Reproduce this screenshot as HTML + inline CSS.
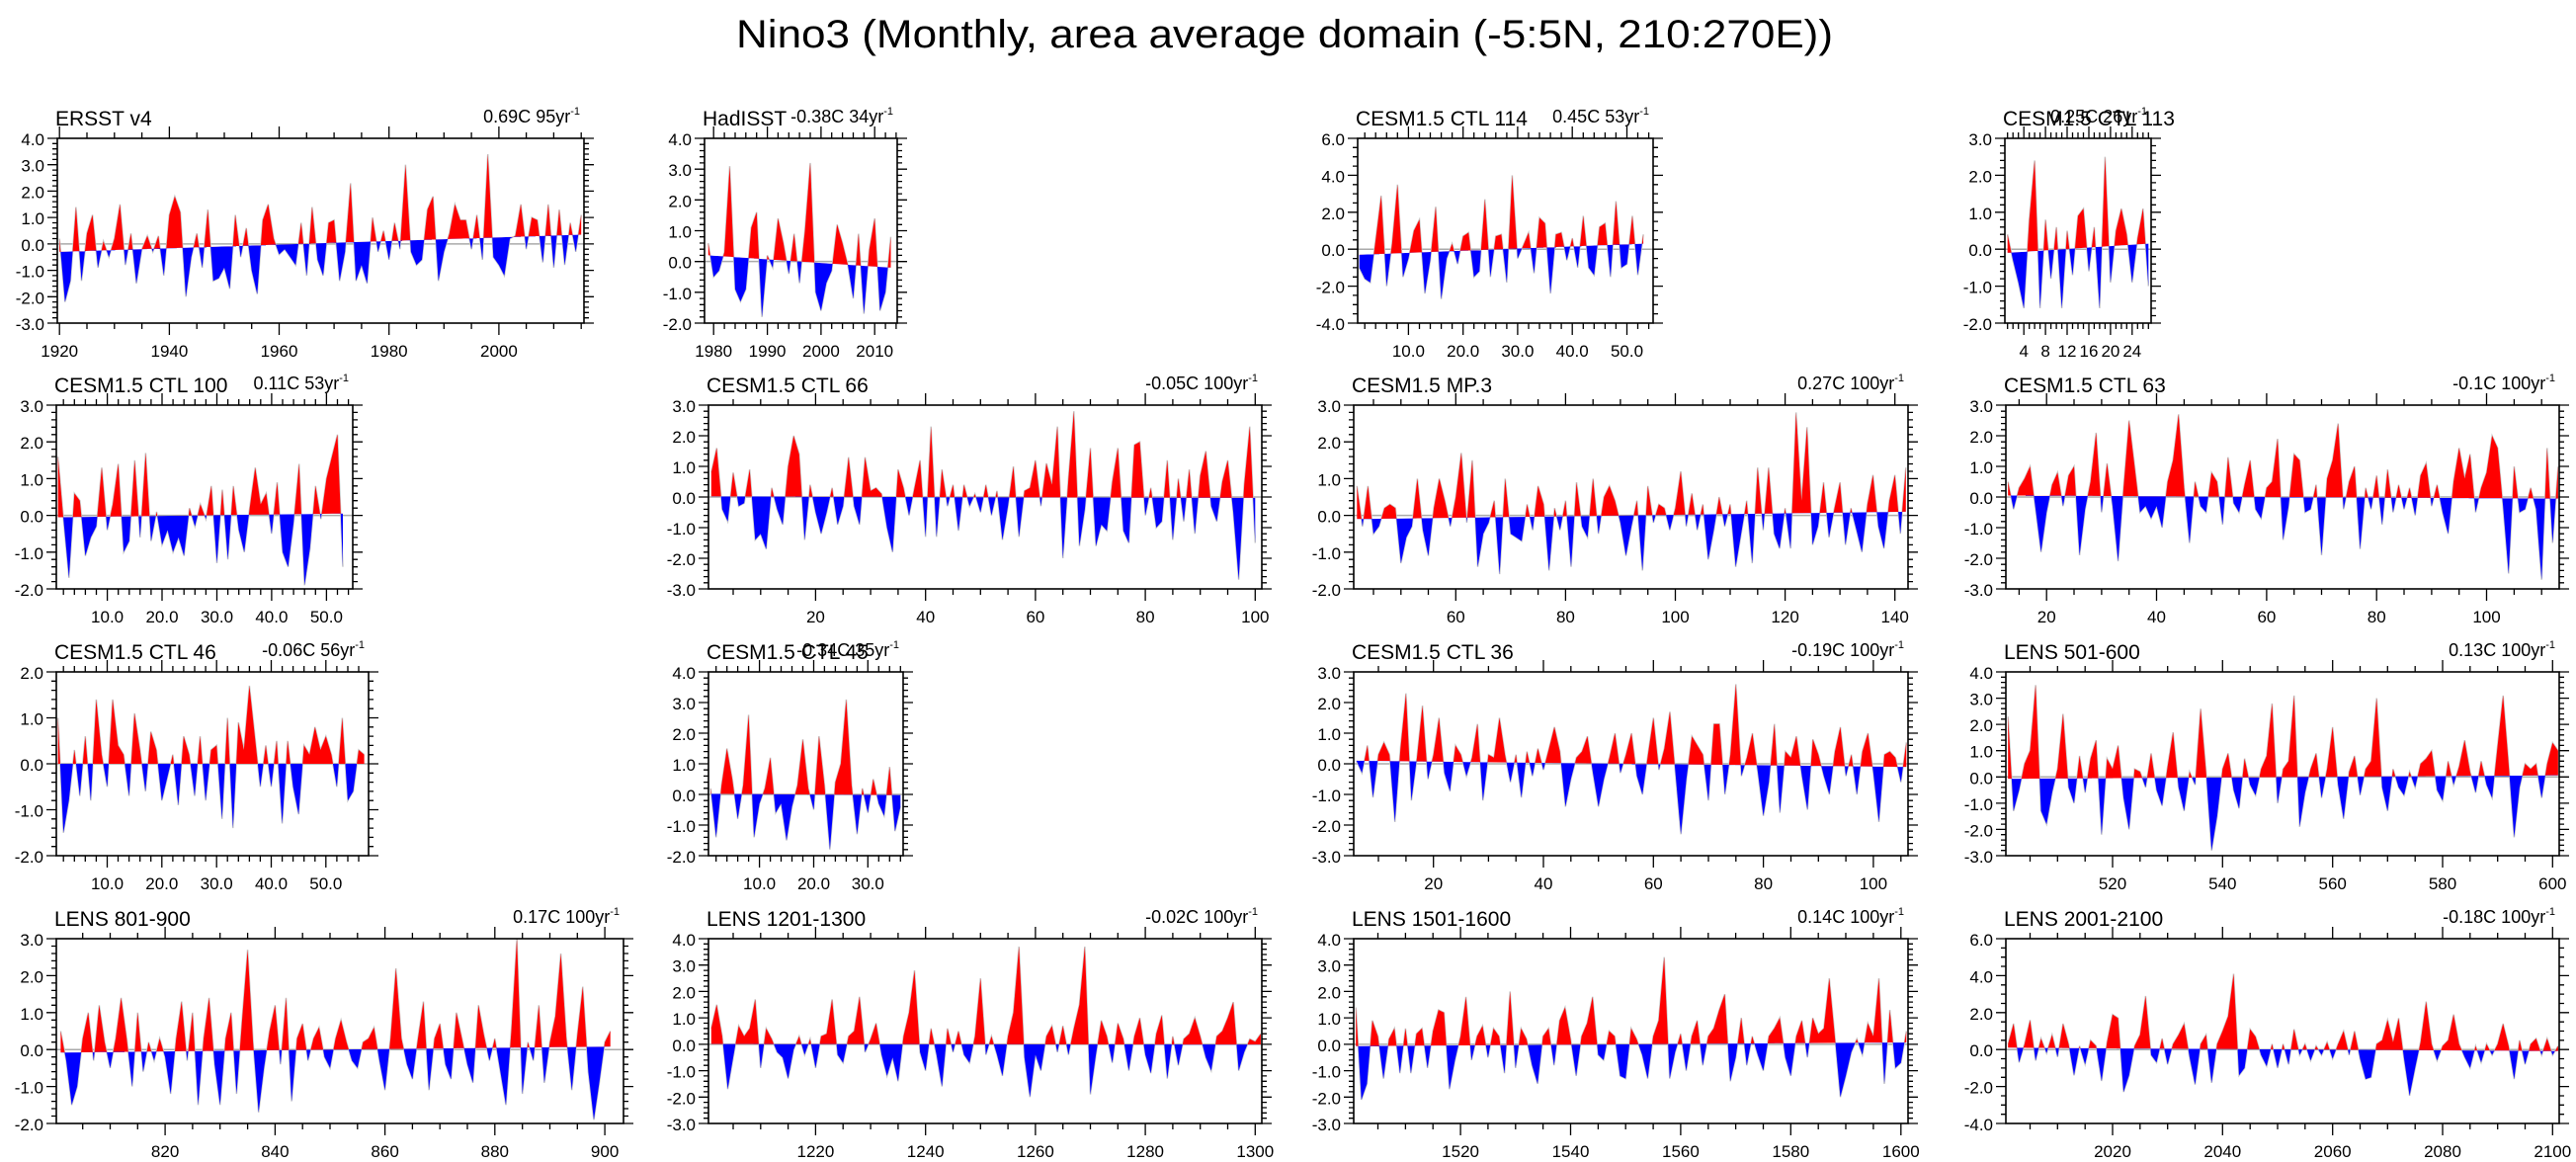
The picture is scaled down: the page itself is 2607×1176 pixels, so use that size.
<!DOCTYPE html>
<html><head><meta charset="utf-8"><title>Nino3</title>
<style>html,body{margin:0;padding:0;background:#fff}svg{display:block}text{font-family:"Liberation Sans",sans-serif}</style>
</head><body>
<svg id="chart" xmlns="http://www.w3.org/2000/svg" width="2607" height="1176" viewBox="0 0 2607 1176">
<rect width="2607" height="1176" fill="#fff"/>
<text x="1300" y="48" font-size="40" text-anchor="middle" textLength="1110" lengthAdjust="spacingAndGlyphs">Nino3 (Monthly, area average domain (-5:5N, 210:270E))</text>
</svg>
<script>
const ersstValues=[0.2,-2.2,-1.4,1.4,-1.4,0.4,1.1,-0.9,0.1,-0.5,0.2,1.5,-0.8,0.4,-1.5,-0.2,0.3,-0.3,0.3,-1.2,1.1,1.8,1.2,-2.0,-0.5,0.4,-0.9,1.3,-1.4,-1.3,-0.9,-1.7,1.1,-0.5,0.6,-1.0,-1.9,0.9,1.5,0.2,-0.4,-0.2,-0.5,-0.8,0.8,-1.2,1.4,-0.6,-1.2,0.8,0.9,-1.4,-0.3,2.3,-1.4,-0.8,-1.5,1.0,-0.3,0.5,-0.6,0.8,-0.2,3.0,-0.3,-0.8,-0.6,1.3,1.8,-1.4,-0.3,0.4,1.5,0.9,0.9,-0.2,1.1,-0.6,3.4,-0.5,-0.8,-1.2,0.2,0.3,1.5,-0.2,1.0,0.9,-0.7,1.5,-0.9,1.3,-0.8,0.8,-0.3,1.1];
const ersstTrend=[-0.3,0.35];
const hadValues=[0.6,-0.5,-0.3,0.3,3.1,-0.9,-1.3,-0.9,1.1,1.6,-1.8,0.2,-0.2,1.4,0.6,-0.4,0.9,-0.7,1.0,3.2,-1.0,-1.6,-0.7,-0.3,1.2,0.6,-0.1,-1.2,0.9,-1.7,0.4,1.4,-1.6,-1.0,0.8];
const hadTrend=[0.2,-0.2];
const ctl114Values=[-1.0,-1.6,-1.8,0.5,2.9,-2.0,0.3,3.5,-1.5,-0.5,1.0,1.6,-2.4,-0.6,2.3,-2.7,-0.5,0.3,-0.8,0.7,0.9,-1.5,-1.2,2.7,-1.5,0.7,0.8,-1.8,4.0,-0.5,0.2,0.9,-1.3,1.7,1.4,-2.4,0.8,0.9,-0.6,0.6,-1.0,1.8,-1.0,-1.4,1.2,1.4,-1.5,2.6,-1.0,-0.8,1.8,-1.4,0.8];
const ctl114Trend=[-0.3,0.3];
const ctl113Values=[0.4,-0.3,-0.9,-1.6,0.8,2.4,-1.6,0.8,-0.8,0.6,-1.6,0.5,-0.7,0.9,1.1,-0.6,0.6,-1.6,2.5,-0.9,0.5,1.1,0.4,-0.9,0.3,1.1,-1.0];
const ctl113Trend=[-0.1,0.15];
const ctl100Values=[1.6,-0.1,-1.7,0.6,0.4,-1.1,-0.6,-0.3,1.3,-0.4,0.3,1.4,-1.0,-0.7,1.5,-0.6,1.7,-0.7,0.1,-0.8,-0.4,-1.0,-0.6,-1.1,0.2,-0.3,0.3,-0.1,0.8,-1.3,0.7,-1.2,0.8,-0.4,-1.0,0.2,1.3,0.3,0.6,-0.5,0.9,-1.0,-1.4,-0.2,1.4,-1.9,-0.9,0.8,-0.1,1.0,1.6,2.2,-1.4];
const ctl100Trend=[-0.05,0.05];
const ctl66Values=[0.8,1.6,-0.4,-0.8,0.8,-0.3,-0.2,0.9,-1.4,-1.2,-1.7,0.3,-0.4,-0.9,1.0,2.0,1.4,-1.4,0.4,-0.5,-1.2,-0.5,0.3,-0.9,-0.3,1.3,-0.3,-0.9,1.3,0.2,0.3,0.1,-1.0,-1.8,0.9,0.3,-0.6,0.3,1.2,-1.3,2.3,-1.3,0.9,-0.3,0.4,-1.1,0.4,-0.3,0.1,-0.5,0.4,-0.6,0.2,-1.4,-0.3,1.0,-1.3,0.2,0.3,1.2,-0.3,1.1,0.4,2.3,-2.0,0.6,2.8,-1.6,-0.4,1.6,-1.6,-0.9,-1.1,0.5,1.6,-1.1,-1.5,1.7,1.8,-0.6,0.3,-1.0,-0.8,1.2,-1.4,0.6,-0.8,0.9,-1.2,0.7,1.5,-0.3,-0.8,0.5,1.2,-0.5,-2.7,0.4,2.3,-1.5];
const ctl66Trend=[0.02,-0.03];
const mp3Values=[0.8,-0.3,0.8,-0.5,-0.3,0.2,0.3,0.2,-1.3,-0.6,-0.3,1.0,-0.4,-1.1,0.2,1.0,0.4,-0.3,0.5,1.7,-0.2,1.5,-1.4,-0.5,-0.2,0.4,-1.6,1.0,-0.5,-0.6,-0.7,0.3,-0.4,0.8,0.3,-1.5,0.2,-0.4,0.4,-1.4,0.9,-0.3,-0.6,1.0,-0.5,0.5,0.8,0.4,-0.2,-1.1,-0.3,0.4,-1.5,0.8,-0.2,0.3,0.2,-0.4,0.2,1.2,-0.3,0.6,-0.4,0.3,-1.2,-0.4,0.5,-0.3,0.3,-1.4,-0.5,0.4,-1.3,1.3,-0.4,1.3,-0.5,-0.9,0.2,-0.9,2.8,0.4,2.4,-0.8,-0.3,0.9,-0.6,0.2,0.9,-0.8,0.2,-0.4,-1.0,0.3,1.1,-0.3,-0.9,0.4,1.1,-0.5,1.3];
const mp3Trend=[-0.1,0.1];
const ctl63Values=[0.5,-0.4,0.3,0.6,1.0,-0.4,-1.8,-0.5,0.4,0.8,-0.3,0.7,1.0,-1.9,-0.4,0.5,2.1,-0.5,1.1,-0.3,-2.1,0.3,2.5,1.0,-0.5,-0.3,-0.7,-0.3,-1.0,0.5,1.2,2.7,0.3,-1.5,0.5,-0.3,-0.5,0.8,0.5,-0.9,1.3,-0.2,-0.5,0.4,1.2,-0.4,-0.7,0.3,0.5,1.9,-1.4,-0.3,1.4,1.2,-0.5,-0.4,0.4,-1.9,0.6,1.2,2.4,-0.4,0.5,1.0,-1.7,0.3,-0.4,0.7,-0.9,0.9,-0.5,0.4,-0.4,0.3,-0.6,0.7,1.1,-0.3,0.4,-0.5,-1.2,0.5,1.6,0.6,1.4,-0.5,0.3,0.8,2.0,1.6,-0.3,-2.5,1.0,-0.5,-0.4,0.3,-0.4,-2.7,1.6,-1.5,1.0];
const ctl63Trend=[0.05,-0.05];
const ctl46Values=[1.0,-1.5,-0.8,0.3,-0.7,0.6,-0.8,1.4,0.2,-0.5,1.4,0.4,0.2,-0.7,1.1,0.3,-0.6,0.7,0.3,-0.8,-0.3,0.2,-0.9,0.6,0.2,-0.7,0.6,-0.8,0.3,0.4,-1.2,1.0,-1.4,0.9,0.3,1.7,0.6,-0.5,0.4,-0.5,0.5,-1.3,0.5,-0.5,-1.1,0.4,0.2,0.8,0.3,0.6,0.2,-0.5,1.0,-0.8,-0.6,0.3,0.2];
const ctl46Trend=[0,0];
const ctl45Values=[0.2,-1.4,0.3,1.5,0.5,-0.8,0.3,2.6,-1.4,-0.3,0.2,1.2,-0.6,-0.3,-1.5,-0.4,0.3,1.8,0.2,-0.5,1.9,0.3,-1.8,0.4,1.0,3.1,0.3,-1.3,0.2,-0.6,0.5,-0.3,-0.7,0.9,-1.2,-0.4];
const ctl45Trend=[0.02,-0.02];
const ctl36Values=[0.1,-0.3,0.6,-1.1,0.3,0.7,0.3,-1.9,0.5,2.3,-1.2,0.2,1.9,-0.5,0.3,1.5,-0.3,-0.9,0.6,0.3,-0.4,0.2,1.3,-1.2,0.3,0.2,1.5,0.3,-0.6,0.3,-1.1,0.4,-0.4,0.5,-0.2,0.5,1.2,0.4,-1.4,-0.5,0.2,0.4,0.9,-0.3,-1.4,-0.5,0.2,1.0,-0.3,0.3,1.0,-0.4,-1.0,0.3,1.5,-0.2,0.5,1.7,-0.3,-2.3,-0.5,0.9,0.6,0.3,-1.2,1.3,1.3,-1.0,0.3,2.6,-0.4,0.2,1.0,-0.3,-1.7,-0.6,1.3,-1.6,0.4,0.2,0.9,-0.4,-1.5,0.8,0.3,-0.4,-1.0,0.4,1.2,-0.4,0.3,-1.0,0.4,1.0,-0.3,-1.9,0.3,0.4,0.2,-0.6,0.7];
const ctl36Trend=[0.1,-0.1];
const lens500Values=[2.3,-1.3,-0.5,0.5,1.0,3.5,-1.3,-1.8,-0.6,0.3,2.4,-0.4,-1.0,0.8,-0.6,0.7,1.4,-2.2,0.7,0.3,1.2,-0.8,-2.0,0.3,0.2,-0.4,0.9,-0.5,-1.1,0.4,1.7,-0.4,-1.3,0.2,-0.3,2.6,0.2,-2.8,-1.5,0.3,0.9,-0.5,-1.2,0.7,-0.3,-0.7,0.3,0.8,2.8,-1.0,0.3,0.6,3.1,-1.9,-0.6,0.3,0.9,-0.8,0.3,1.9,-0.3,-1.6,0.2,0.8,-0.7,0.3,0.6,3.0,-0.4,-1.3,0.3,-0.4,-0.7,0.2,-0.4,0.5,0.7,1.0,-0.5,-0.9,0.6,-0.3,0.4,1.4,0.2,-0.6,0.6,-0.3,-0.8,1.2,3.1,0.5,-2.3,-0.4,0.5,0.3,0.5,-0.8,0.5,1.3,1.0];
const lens500Trend=[-0.07,0.06];
const lens800Values=[0.5,-0.3,-1.5,-1.0,0.3,1.0,-0.3,1.2,0.2,-0.5,0.3,1.4,0.3,-1.0,1.0,-0.6,0.2,-0.3,0.3,-0.2,-1.2,0.3,1.3,-0.3,1.0,-1.5,0.3,1.4,-0.4,-1.5,0.3,1.0,-1.2,0.8,2.7,0.2,-1.7,-0.5,0.5,1.2,-0.4,1.4,-1.4,0.3,0.7,-0.3,0.3,0.6,-0.2,-0.5,0.3,0.8,0.2,-0.3,-0.5,0.2,0.3,0.6,-0.3,-1.1,0.3,2.2,0.3,-0.4,-0.8,0.3,1.3,-1.1,0.3,0.7,-0.4,-0.8,1.0,0.3,-0.4,-0.9,1.2,0.4,-0.3,0.3,-0.6,-1.5,0.5,3.0,-1.2,0.2,-0.3,1.2,-0.9,0.2,0.9,2.6,0.3,-1.1,0.4,1.7,-0.6,-1.9,-0.9,0.2,0.5];
const lens800Trend=[-0.08,0.08];
const lens1200Values=[0.6,1.5,0.3,-1.7,-0.5,0.7,0.3,0.6,1.7,-0.9,0.6,0.2,-0.3,-0.5,-1.3,-0.2,0.3,-0.4,0.2,-0.9,0.3,0.4,1.7,-0.4,-0.7,0.3,0.5,1.8,-0.3,0.2,0.8,-0.4,-1.2,-0.5,-1.4,0.3,1.2,2.8,-0.3,-1.0,0.6,-0.4,-1.6,0.6,-0.3,0.5,-0.4,-0.7,0.3,2.5,-0.4,0.3,-0.4,-1.2,0.3,1.2,3.7,-0.5,-2.0,-0.4,-1.0,0.3,0.7,-0.3,0.7,-0.4,0.6,1.5,3.7,-1.9,-0.4,0.9,0.3,-0.7,0.8,0.2,-1.0,0.3,1.0,-0.4,-1.1,0.4,1.1,-1.3,0.3,-0.8,0.2,0.4,1.0,0.3,-0.5,-1.0,0.3,0.5,1.0,1.6,-1.0,-0.3,0.2,0.1,0.4];
const lens1200Trend=[0.01,-0.01];
const lens1500Values=[1.4,-2.1,-1.5,0.9,0.3,-1.3,0.2,0.6,-1.1,0.6,-1.1,0.4,0.6,-0.9,0.5,1.3,1.2,-1.7,-0.6,0.3,1.8,-0.6,0.3,0.7,-0.5,0.6,0.3,-1.1,2.0,-0.9,0.6,0.2,-0.8,-1.5,0.3,0.6,-0.8,0.9,1.4,0.2,-1.2,0.3,0.8,1.8,-0.4,-0.6,0.5,0.3,-1.2,-1.3,0.6,0.2,-0.4,-1.3,0.3,0.9,3.3,-1.3,-0.3,0.4,-1.0,0.3,0.9,-0.8,0.3,0.6,1.3,1.9,-1.4,-0.5,1.0,-0.8,0.3,-0.4,-1.0,0.3,0.6,1.0,-0.5,-1.2,0.3,0.9,-0.5,1.0,0.4,0.6,2.5,0.3,-2.0,-1.2,-0.3,0.2,-0.4,0.8,0.3,2.5,-1.5,1.3,-0.9,-0.7,0.5];
const lens1500Trend=[-0.07,0.07];
const lens2000Values=[0.3,1.4,-0.7,0.3,1.6,-0.6,0.6,-0.2,0.8,-0.4,1.4,0.3,-1.4,0.2,-0.8,0.5,0.2,-1.7,0.4,1.9,1.7,-2.3,-1.4,0.2,0.8,2.9,-0.3,-0.7,0.6,-0.8,0.3,0.8,1.4,-0.4,-1.9,0.3,0.8,-1.8,0.3,1.0,1.8,4.1,-1.4,-1.0,1.1,0.7,-0.3,-0.9,0.3,-1.0,0.3,-0.8,1.1,-0.3,0.3,-0.6,0.2,-0.3,0.4,-0.5,0.3,1.0,-0.3,1.0,-0.5,-1.6,-1.5,0.3,0.5,1.6,0.4,1.7,-0.5,-2.5,-1.0,0.4,2.6,0.3,-0.6,0.2,0.5,1.9,0.3,-0.4,-1.0,0.2,-0.7,0.3,-0.3,0.3,1.4,0.2,-1.6,0.5,-0.8,0.3,0.6,-0.3,0.6,-0.3,0.2];
const lens2000Trend=[0.1,-0.08];

const rows=[[140,327],[410,596],[680,866],[950,1137]];
const panels=[
 {id:'ersst',title:'ERSST v4',tt:'0.69C 95yr',L:58,R:591,row:0,xlo:1919.6,xhi:2015.5,ylo:-3,yhi:4,ym:1,yn:0.2,xt:[1920,2000,20],xn:5,xd:0,start:1920,vals:ersstValues,tr:ersstTrend},
 {id:'hadisst',title:'HadISST',tt:'-0.38C 34yr',L:713,R:908,row:0,xlo:1978.3,xhi:2014.2,ylo:-2,yhi:4,ym:1,yn:0.2,xt:[1980,2010,10],xn:2,xd:0,start:1979,vals:hadValues,tr:hadTrend},
 {id:'ctl114',title:'CESM1.5 CTL 114',tt:'0.45C 53yr',L:1374,R:1673,row:0,xlo:0.7,xhi:54.8,ylo:-4,yhi:6,ym:2,yn:0.5,xt:[10,50,10],xn:2,xd:1,start:1,vals:ctl114Values,tr:ctl114Trend},
 {id:'ctl113',title:'CESM1.5 CTL 113',tt:'0.25C 26yr',L:2029,R:2177,row:0,xlo:0.5,xhi:27.5,ylo:-2,yhi:3,ym:1,yn:0.2,xt:[4,24,4],xn:1,xd:0,start:1,vals:ctl113Values,tr:ctl113Trend},
 {id:'ctl100',title:'CESM1.5 CTL 100',tt:'0.11C 53yr',L:57,R:357,row:1,xlo:0.7,xhi:54.8,ylo:-2,yhi:3,ym:1,yn:0.2,xt:[10,50,10],xn:2,xd:1,start:1,vals:ctl100Values,tr:ctl100Trend},
 {id:'ctl66',title:'CESM1.5 CTL 66',tt:'-0.05C 100yr',L:717,R:1277,row:1,xlo:0.5,xhi:101.2,ylo:-3,yhi:3,ym:1,yn:0.2,xt:[20,100,20],xn:5,xd:0,start:1,vals:ctl66Values,tr:ctl66Trend},
 {id:'mp3',title:'CESM1.5 MP.3',tt:'0.27C 100yr',L:1370,R:1931,row:1,xlo:41.4,xhi:142.4,ylo:-2,yhi:3,ym:1,yn:0.2,xt:[60,140,20],xn:5,xd:0,start:42,vals:mp3Values,tr:mp3Trend},
 {id:'ctl63',title:'CESM1.5 CTL 63',tt:'-0.1C 100yr',L:2030,R:2590,row:1,xlo:12.6,xhi:113.2,ylo:-3,yhi:3,ym:1,yn:0.2,xt:[20,100,20],xn:5,xd:0,start:13,vals:ctl63Values,tr:ctl63Trend},
 {id:'ctl46',title:'CESM1.5 CTL 46',tt:'-0.06C 56yr',L:57,R:373,row:2,xlo:0.7,xhi:57.8,ylo:-2,yhi:2,ym:1,yn:0.2,xt:[10,50,10],xn:2,xd:1,start:1,vals:ctl46Values,tr:ctl46Trend},
 {id:'ctl45',title:'CESM1.5 CTL 45',tt:'-0.34C 35yr',L:717,R:914,row:2,xlo:0.6,xhi:36.5,ylo:-2,yhi:4,ym:1,yn:0.2,xt:[10,30,10],xn:2,xd:1,start:1,vals:ctl45Values,tr:ctl45Trend},
 {id:'ctl36',title:'CESM1.5 CTL 36',tt:'-0.19C 100yr',L:1370,R:1931,row:2,xlo:5.5,xhi:106.3,ylo:-3,yhi:3,ym:1,yn:0.2,xt:[20,100,20],xn:5,xd:0,start:6,vals:ctl36Values,tr:ctl36Trend},
 {id:'lens500',title:'LENS 501-600',tt:'0.13C 100yr',L:2030,R:2590,row:2,xlo:500.6,xhi:601.2,ylo:-3,yhi:4,ym:1,yn:0.2,xt:[520,600,20],xn:5,xd:0,start:501,vals:lens500Values,tr:lens500Trend},
 {id:'lens800',title:'LENS 801-900',tt:'0.17C 100yr',L:57,R:631,row:3,xlo:800.2,xhi:903.4,ylo:-2,yhi:3,ym:1,yn:0.2,xt:[820,900,20],xn:5,xd:0,start:801,vals:lens800Values,tr:lens800Trend},
 {id:'lens1200',title:'LENS 1201-1300',tt:'-0.02C 100yr',L:717,R:1277,row:3,xlo:1200.5,xhi:1301.2,ylo:-3,yhi:4,ym:1,yn:0.2,xt:[1220,1300,20],xn:5,xd:0,start:1201,vals:lens1200Values,tr:lens1200Trend},
 {id:'lens1500',title:'LENS 1501-1600',tt:'0.14C 100yr',L:1370,R:1931,row:3,xlo:1500.6,xhi:1601.3,ylo:-3,yhi:4,ym:1,yn:0.2,xt:[1520,1600,20],xn:5,xd:0,start:1501,vals:lens1500Values,tr:lens1500Trend},
 {id:'lens2000',title:'LENS 2001-2100',tt:'-0.18C 100yr',L:2030,R:2590,row:3,xlo:2000.6,xhi:2101.2,ylo:-4,yhi:6,ym:2,yn:0.5,xt:[2020,2100,20],xn:5,xd:0,start:2001,vals:lens2000Values,tr:lens2000Trend}
];
const NS='http://www.w3.org/2000/svg';
const svg=document.getElementById('chart');
function mk(tag,attrs,parent){const e=document.createElementNS(NS,tag);for(const k in attrs)e.setAttribute(k,attrs[k]);(parent||svg).appendChild(e);return e;}
const defs=mk('defs',{});
panels.forEach(p=>{
 const T=rows[p.row][0],B=rows[p.row][1];
 const g=mk('g',{});
 
 
 const xs=v=>p.L+(v-p.xlo)/(p.xhi-p.xlo)*(p.R-p.L);
 const ys=v=>B-(v-p.ylo)/(p.yhi-p.ylo)*(B-T);
 const n=p.vals.length,x0=p.start,x1=p.start+n-1;
 const tv=x=>p.tr[0]+(p.tr[1]-p.tr[0])*(x-x0)/(x1-x0||1);
 const ca=mk('clipPath',{id:'ca-'+p.id},defs);
 mk('polygon',{points:`${p.L},${T} ${p.R},${T} ${p.R},${ys(tv(p.xhi))} ${p.L},${ys(tv(p.xlo))}`},ca);
 const cb=mk('clipPath',{id:'cb-'+p.id},defs);
 mk('polygon',{points:`${p.L},${B} ${p.R},${B} ${p.R},${ys(tv(p.xhi))} ${p.L},${ys(tv(p.xlo))}`},cb);
 let pts=[];
 p.vals.forEach((v,i)=>{const x=xs(x0+i);pts.push(x.toFixed(1)+','+ys(v).toFixed(1));});
 const line=pts.join(' ');
 const poly=`${xs(x0).toFixed(1)},${ys(tv(x0)).toFixed(1)} ${line} ${xs(x1).toFixed(1)},${ys(tv(x1)).toFixed(1)}`;
 const zl=mk('line',{x1:p.L,x2:p.R,y1:ys(0),y2:ys(0),stroke:'#aaa','stroke-width':1.5},g);
 
 
 const gl=mk('polyline',{points:line,fill:'none',stroke:'#c8c8c8','stroke-width':1.5},g);
 
 
 const pa=mk('polygon',{points:poly,fill:'#ff0000','clip-path':`url(#ca-${p.id})`},g);
 
 
 const pb=mk('polygon',{points:poly,fill:'#0000ff','clip-path':`url(#cb-${p.id})`},g);
 
 
 const fr=mk('rect',{x:p.L,y:T,width:p.R-p.L,height:B-T,fill:'none',stroke:'#000','stroke-width':1.6},g);
 
 
 let tk='';
 const ny=Math.round((p.yhi-p.ylo)/p.yn);
 for(let i=0;i<=ny;i++){const v=p.ylo+i*p.yn;const y=ys(v).toFixed(1);const maj=Math.abs(v/p.ym-Math.round(v/p.ym))<1e-6;const l=maj?10:5;tk+=`M${p.L},${y}h${-l}M${p.R},${y}h${l}`;
  if(maj){const t=mk('text',{x:p.L-13,y:+y+7,'font-size':17,'text-anchor':'end'},g);t.textContent=v.toFixed(1);
   
   }}
 const fm=Math.ceil(p.xlo/p.xn)*p.xn;
 for(let v=fm;v<=p.xhi;v+=p.xn){const x=xs(v).toFixed(1);const maj=v>=p.xt[0]&&v<=p.xt[1]&&((v-p.xt[0])%p.xt[2]===0);const l=maj?12:6;tk+=`M${x},${B}v${l}M${x},${T}v${-l}`;
  if(maj){const t=mk('text',{x:x,y:B+34,'font-size':17,'text-anchor':'middle'},g);t.textContent=p.xd?v.toFixed(1):String(v);
   
   }}
 const tp=mk('path',{d:tk,stroke:'#000','stroke-width':1.3,fill:'none'},g);
 
 
 const ti=mk('text',{x:p.L-2,y:T-13,'font-size':21},g);ti.textContent=p.title;
 
 
 const tt=mk('text',{x:p.R-4,y:T-16,'font-size':18,'text-anchor':'end'},g);
 
 
 const s1=mk('tspan',{},tt);s1.textContent=p.tt;
 const s2=mk('tspan',{dy:-8,'font-size':11},tt);s2.textContent='-1';
});
</script>
</body></html>
